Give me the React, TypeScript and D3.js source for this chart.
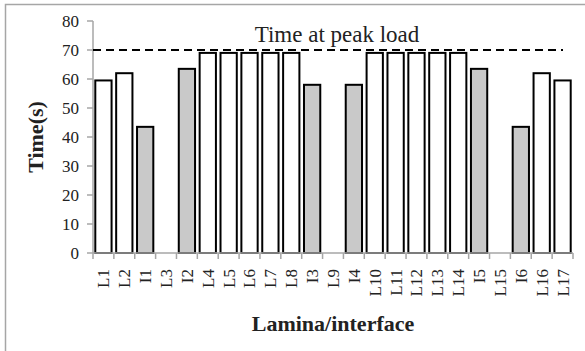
import { useEffect, useRef } from "react";
import * as d3 from "d3";

const categories = [
  "L1", "L2", "I1", "L3", "I2", "L4", "L5", "L6", "L7", "L8", "I3", "L9",
  "I4", "L10", "L11", "L12", "L13", "L14", "I5", "L15", "I6", "L16", "L17",
];
const times = [
  59.5, 62, 43.5, 0, 63.5, 69, 69, 69, 69, 69, 58, 0,
  58, 69, 69, 69, 69, 69, 63.5, 0, 43.5, 62, 59.5,
];
const yTicks = [0, 10, 20, 30, 40, 50, 60, 70, 80];
const peakTime = 70;

const App = () => {
  const reference = useRef<SVGSVGElement>(null);

  useEffect(() => {
    d3.select(reference.current).selectAll("*").remove();
    const width = 585;
    const height = 351;
    const svg = d3
      .select(reference.current)
      .attr("width", width)
      .attr("height", height);
    const margin = { top: 21, right: 12, bottom: 98, left: 93 };
    const serif = "'Liberation Serif', 'Times New Roman', serif";
    const axisColor = "#a6a6a6";

    // frame
    svg
      .append("path")
      .attr("d", `M5.5,${height} V4.5 H${width}`)
      .attr("fill", "none")
      .attr("stroke", axisColor)
      .attr("stroke-width", 1.5);

    const x = d3
      .scaleBand<string>()
      .domain(categories)
      .range([margin.left, width - margin.right])
      .paddingInner(0.22)
      .paddingOuter(0.11);
    const y = d3
      .scaleLinear()
      .domain([0, 80])
      .range([height - margin.bottom, margin.top]);

    const step = x.step();
    const x0 = margin.left;
    const x1 = width - margin.right;

    // bars
    svg
      .append("g")
      .selectAll("rect")
      .data(categories)
      .enter()
      .filter((_, i) => times[i] > 0)
      .append("rect")
      .attr("x", (d) => x(d)!)
      .attr("y", (d) => y(times[categories.indexOf(d)]))
      .attr("width", x.bandwidth())
      .attr("height", (d) => y(0) - y(times[categories.indexOf(d)]))
      .attr("fill", (d) => (d.startsWith("I") ? "#c9c9c9" : "#ffffff"))
      .attr("stroke", "#000")
      .attr("stroke-width", 2);

    // y axis
    const yAxis = svg.append("g");
    yAxis
      .append("line")
      .attr("x1", x0)
      .attr("x2", x0)
      .attr("y1", y(80))
      .attr("y2", y(0))
      .attr("stroke", axisColor)
      .attr("stroke-width", 1.5);
    yAxis
      .selectAll("line.tick")
      .data(yTicks)
      .enter()
      .append("line")
      .attr("class", "tick")
      .attr("x1", x0 - 6)
      .attr("x2", x0)
      .attr("y1", (d) => y(d))
      .attr("y2", (d) => y(d))
      .attr("stroke", axisColor)
      .attr("stroke-width", 1.5);
    yAxis
      .selectAll("text")
      .data(yTicks)
      .enter()
      .append("text")
      .attr("x", x0 - 14)
      .attr("y", (d) => y(d))
      .attr("dy", "0.35em")
      .attr("text-anchor", "end")
      .style("font-family", serif)
      .style("font-size", "17px")
      .style("fill", "#222")
      .text((d) => d);

    // x axis
    const xAxis = svg.append("g");
    xAxis
      .append("line")
      .attr("x1", x0)
      .attr("x2", x1)
      .attr("y1", y(0))
      .attr("y2", y(0))
      .attr("stroke", axisColor)
      .attr("stroke-width", 1.5);
    xAxis
      .selectAll("line.tick")
      .data(d3.range(categories.length + 1))
      .enter()
      .append("line")
      .attr("class", "tick")
      .attr("x1", (i) => x0 + i * step)
      .attr("x2", (i) => x0 + i * step)
      .attr("y1", y(0))
      .attr("y2", y(0) + 6)
      .attr("stroke", axisColor)
      .attr("stroke-width", 1.5);
    xAxis
      .selectAll("text")
      .data(categories)
      .enter()
      .append("text")
      .attr(
        "transform",
        (d) => `translate(${x(d)! + x.bandwidth() / 2},${y(0) + 16}) rotate(-90)`
      )
      .attr("dy", "0.35em")
      .attr("text-anchor", "end")
      .style("font-family", serif)
      .style("font-size", "17px")
      .style("fill", "#222")
      .text((d) => d);

    // peak load line
    svg
      .append("line")
      .attr("x1", x0)
      .attr("x2", x0 + 470)
      .attr("y1", y(peakTime))
      .attr("y2", y(peakTime))
      .attr("stroke", "#000")
      .attr("stroke-width", 2)
      .attr("stroke-dasharray", "8,5");
    svg
      .append("text")
      .attr("x", 337)
      .attr("y", 42)
      .attr("text-anchor", "middle")
      .style("font-family", serif)
      .style("font-size", "23px")
      .style("fill", "#222")
      .text("Time at peak load");

    // axis titles
    svg
      .append("text")
      .attr("transform", `translate(43,${(y(0) + y(80)) / 2}) rotate(-90)`)
      .attr("text-anchor", "middle")
      .style("font-family", serif)
      .style("font-size", "22px")
      .style("font-weight", "bold")
      .style("fill", "#222")
      .text("Time(s)");
    svg
      .append("text")
      .attr("x", (x0 + x1) / 2)
      .attr("y", 331)
      .attr("text-anchor", "middle")
      .style("font-family", serif)
      .style("font-size", "22px")
      .style("font-weight", "bold")
      .style("fill", "#222")
      .text("Lamina/interface");
  }, []);

  return (
    <svg
      ref={reference}
      style={{ position: "absolute", left: 0, top: 0, display: "block" }}
    ></svg>
  );
};

export default App;
